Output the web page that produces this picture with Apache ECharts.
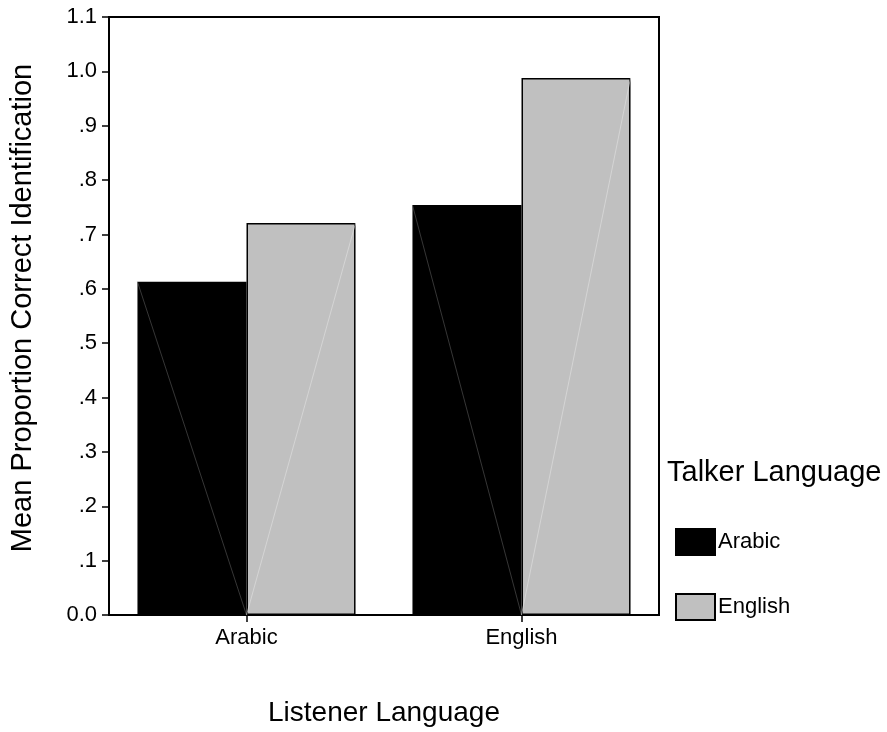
<!DOCTYPE html>
<html>
<head>
<meta charset="utf-8">
<script src="https://cdn.jsdelivr.net/npm/echarts@6/dist/echarts.min.js"></script>
<style>
html,body{margin:0;padding:0;background:#fff;}
#chart{width:887px;height:732px;}
</style>
</head>
<body>
<div id="chart"></div>
<script>
const listenerLanguages = ['Arabic', 'English'];
const talkerArabic = [0.613, 0.754];
const talkerEnglish = [0.721, 0.988];
const seriesNames = ['Arabic', 'English'];
const yTickValues = [0, 0.1, 0.2, 0.3, 0.4, 0.5, 0.6, 0.7, 0.8, 0.9, 1.0, 1.1];
const yTickLabels = ['0.0', '.1', '.2', '.3', '.4', '.5', '.6', '.7', '.8', '.9', '1.0', '1.1'];

const FONT = 'Liberation Sans, Arial, sans-serif';
const CAT_GAP = 0.207;
const chart = echarts.init(document.getElementById('chart'), null, {renderer: 'canvas'});

function tickLabel(v) {
  let best = 0, bd = Infinity;
  for (let i = 0; i < yTickValues.length; i++) {
    const d = Math.abs(yTickValues[i] - v);
    if (d < bd) { bd = d; best = i; }
  }
  return yTickLabels[best];
}

// faint diagonal artefact lines across the bars (as in the original SPSS output)
function diagRenderer(side, color) {
  return function (params, api) {
    const idx = api.value(0);
    const val = api.value(1);
    const top = api.coord([idx, val]);
    const base = api.coord([idx, 0]);
    const band = api.size([1, 0])[0];
    const bw = band * (1 - CAT_GAP) / 2;
    const x0 = side === 0 ? top[0] - bw : top[0];
    const x1 = x0 + bw;
    const shape = side === 0
      ? {x1: x0, y1: top[1], x2: x1, y2: base[1]}
      : {x1: x0, y1: base[1], x2: x1, y2: top[1]};
    return {type: 'line', shape: shape, style: {stroke: color, lineWidth: 0.6}, silent: true};
  };
}

chart.setOption({
  animation: false,
  backgroundColor: '#fff',
  title: {
    text: 'Talker Language',
    left: 667,
    top: 458,
    padding: 0,
    textStyle: {fontFamily: FONT, fontSize: 29, fontWeight: 'normal', color: '#000', lineHeight: 30}
  },
  legend: {
    orient: 'vertical',
    left: 675,
    top: 528,
    padding: 0,
    itemWidth: 39,
    itemHeight: 26,
    itemGap: 37,
    icon: 'rect',
    data: seriesNames,
    textStyle: {fontFamily: FONT, fontSize: 22, color: '#000', padding: [0, 0, 0, -2]}
  },
  grid: {
    left: 109,
    right: 228,
    top: 17,
    bottom: 114,
    show: true,
    borderColor: '#000',
    borderWidth: 2,
    backgroundColor: 'transparent'
  },
  xAxis: {
    type: 'category',
    data: listenerLanguages,
    name: 'Listener Language',
    nameLocation: 'middle',
    nameGap: 84,
    nameTextStyle: {fontFamily: FONT, fontSize: 28, color: '#000', lineHeight: 28},
    axisLine: {show: true, lineStyle: {color: '#000', width: 2}},
    axisTick: {show: true, alignWithLabel: true, length: 7, lineStyle: {color: '#000', width: 1.5}},
    axisLabel: {fontFamily: FONT, fontSize: 22, color: '#000', margin: 12},
    splitLine: {show: false}
  },
  yAxis: {
    type: 'value',
    min: 0,
    max: 1.1,
    interval: 0.1,
    name: 'Mean Proportion Correct Identification',
    nameLocation: 'middle',
    nameGap: 72,
    nameTextStyle: {fontFamily: FONT, fontSize: 29, color: '#000', lineHeight: 28, padding: [0, 0, 0, 16]},
    axisLine: {show: true, lineStyle: {color: '#000', width: 2}},
    axisTick: {show: true, length: 7, lineStyle: {color: '#000', width: 1.5}},
    axisLabel: {fontFamily: FONT, fontSize: 22, color: '#000', margin: 12, formatter: tickLabel},
    splitLine: {show: false}
  },
  series: [
    {
      name: seriesNames[0],
      type: 'bar',
      data: talkerArabic,
      barGap: '0%',
      barCategoryGap: (CAT_GAP * 100) + '%',
      itemStyle: {color: '#000000', borderColor: '#000', borderWidth: 1.5}
    },
    {
      name: seriesNames[1],
      type: 'bar',
      data: talkerEnglish,
      barGap: '0%',
      barCategoryGap: (CAT_GAP * 100) + '%',
      itemStyle: {color: '#c0c0c0', borderColor: '#000', borderWidth: 1.5}
    },
    {
      type: 'custom',
      z: 5,
      renderItem: diagRenderer(0, '#5a5a5a'),
      data: talkerArabic.map((v, i) => [i, v]),
      encode: {x: 0, y: 1},
      silent: true
    },
    {
      type: 'custom',
      z: 5,
      renderItem: diagRenderer(1, '#e2e2e2'),
      data: talkerEnglish.map((v, i) => [i, v]),
      encode: {x: 0, y: 1},
      silent: true
    }
  ]
});
</script>
</body>
</html>
